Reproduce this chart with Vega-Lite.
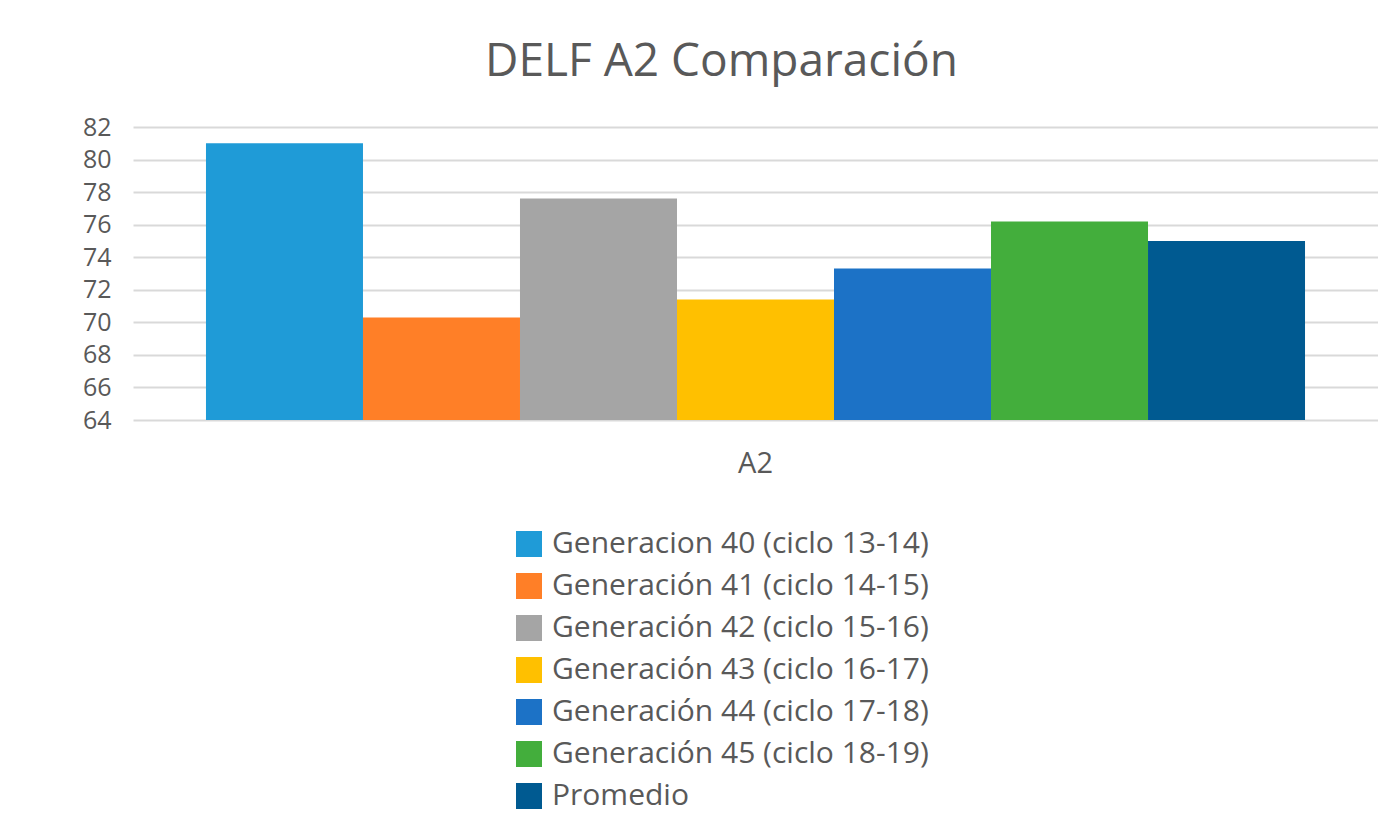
{
  "$schema": "https://vega.github.io/schema/vega-lite/v6.json",
  "width": 1245,
  "height": 293,
  "autosize": {"type": "none"},
  "padding": {"left": 133, "top": 127, "right": 0, "bottom": 418},
  "background": "white",
  "title": {
    "text": "DELF A2 Comparación",
    "font": "Open Sans",
    "fontSize": 46,
    "fontWeight": "normal",
    "color": "#595959",
    "anchor": "middle",
    "dx": -34,
    "offset": 29
  },
  "data": {
    "values": [
      {"cat": "A2", "serie": "Generacion 40  (ciclo 13-14)", "orden": 1, "valor": 81.0},
      {"cat": "A2", "serie": "Generación 41 (ciclo 14-15)", "orden": 2, "valor": 70.3},
      {"cat": "A2", "serie": "Generación 42 (ciclo 15-16)", "orden": 3, "valor": 77.6},
      {"cat": "A2", "serie": "Generación 43 (ciclo 16-17)", "orden": 4, "valor": 71.4},
      {"cat": "A2", "serie": "Generación 44 (ciclo 17-18)", "orden": 5, "valor": 73.3},
      {"cat": "A2", "serie": "Generación 45 (ciclo 18-19)", "orden": 6, "valor": 76.2},
      {"cat": "A2", "serie": "Promedio", "orden": 7, "valor": 75.0}
    ]
  },
  "mark": {"type": "bar", "clip": true},
  "encoding": {
    "x": {
      "field": "cat",
      "type": "nominal",
      "scale": {"paddingInner": 0, "paddingOuter": 0.0664},
      "axis": {
        "title": null,
        "labelAngle": 0,
        "domain": false,
        "ticks": false,
        "labelFont": "Open Sans",
        "labelFontSize": 29,
        "labelColor": "#595959",
        "labelPadding": 29
      }
    },
    "xOffset": {
      "field": "serie",
      "type": "nominal",
      "sort": {"field": "orden"},
      "scale": {"paddingInner": 0, "paddingOuter": 0}
    },
    "y": {
      "field": "valor",
      "type": "quantitative",
      "scale": {"domain": [64, 82], "nice": false, "zero": false},
      "axis": {
        "title": null,
        "values": [64, 66, 68, 70, 72, 74, 76, 78, 80, 82],
        "domain": false,
        "ticks": false,
        "labelFont": "Open Sans",
        "labelFontSize": 25,
        "labelColor": "#595959",
        "labelPadding": 22,
        "gridColor": "#D9D9D9",
        "gridWidth": 2
      }
    },
    "color": {
      "field": "serie",
      "type": "nominal",
      "sort": {"field": "orden"},
      "scale": {
        "range": ["#1F9BD7", "#FF7F27", "#A5A5A5", "#FFC000", "#1C72C6", "#43AE3C", "#005A91"]
      },
      "legend": {
        "title": null,
        "orient": "none",
        "legendX": 381,
        "legendY": 402,
        "direction": "vertical",
        "symbolType": "square",
        "symbolSize": 676,
        "symbolStrokeWidth": 0,
        "labelFont": "Open Sans",
        "labelFontSize": 30,
        "labelColor": "#595959",
        "labelOffset": 8,
        "rowPadding": 12,
        "labelLimit": 600
      }
    }
  },
  "config": {
    "view": {"stroke": null}
  }
}
